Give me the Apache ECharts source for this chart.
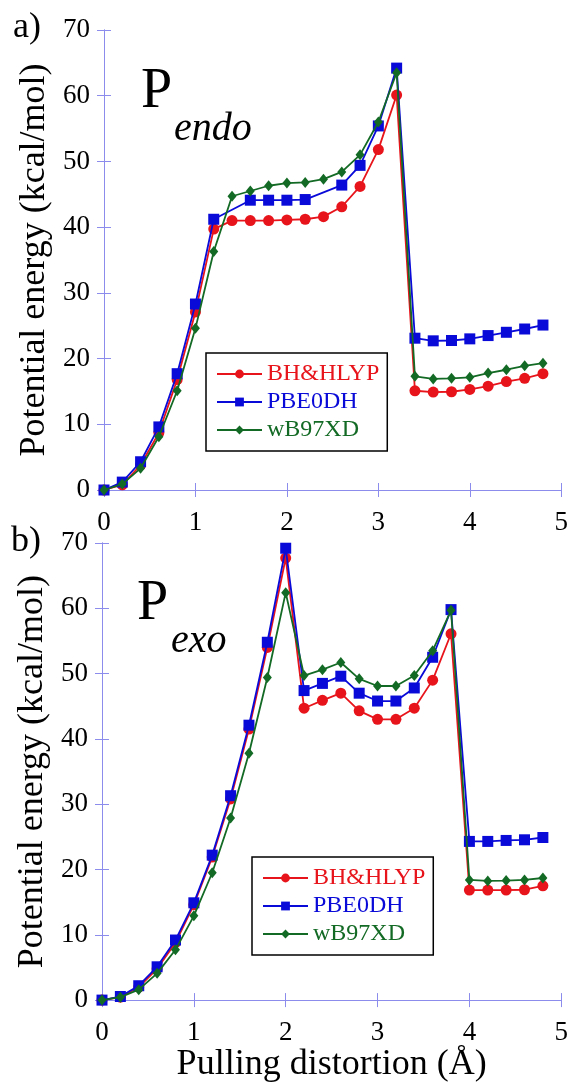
<!DOCTYPE html>
<html>
<head>
<meta charset="utf-8">
<script src="https://cdn.jsdelivr.net/npm/echarts@6/dist/echarts.min.js"></script>
<style>
  html, body { margin: 0; padding: 0; background: #fff; }
  #chart { width: 571px; height: 1084px; }
</style>
</head>
<body>
<div id="chart"></div>
<script>
// pulling distortion (Å)
const xs = [0, 0.2, 0.4, 0.6, 0.8, 1.0, 1.2, 1.4, 1.6, 1.8, 2.0, 2.2, 2.4,
  2.6, 2.8, 3.0, 3.2, 3.4, 3.6, 3.8, 4.0, 4.2, 4.4, 4.6, 4.8];

// panel a) P endo
const endoBH = [0, 0.8, 3.8, 8.7, 16.8, 27.1, 39.7, 41.0, 41.0, 41.0, 41.1, 41.2, 41.6,
  43.1, 46.2, 51.8, 60.1, 15.1, 14.9, 14.95, 15.3, 15.8, 16.5, 17.0, 17.7];
const endoPBE = [0, 1.2, 4.3, 9.6, 17.7, 28.3, 41.2, null, 44.1, 44.1, 44.1, 44.2, null,
  46.4, 49.4, 55.4, 64.2, 23.1, 22.7, 22.75, 23.0, 23.5, 24.0, 24.5, 25.1];
const endoWB = [0, 0.9, 3.3, 8.1, 15.1, 24.6, 36.3, 44.7, 45.5, 46.3, 46.7, 46.8, 47.3,
  48.4, 51.0, 56.0, 63.5, 17.3, 16.9, 17.0, 17.15, 17.8, 18.3, 18.9, 19.3];

// panel b) P exo
const exoBH = [0, 0.45, 2.0, 4.8, 8.8, 14.6, 21.9, 30.8, 41.5, 54.0, 67.7, 44.7, 45.9,
  47.0, 44.3, 43.0, 43.0, 44.7, 49.0, 56.1, 16.85, 16.85, 16.85, 16.9, 17.5];
const exoPBE = [0, 0.55, 2.2, 5.1, 9.2, 14.9, 22.2, 31.3, 42.1, 54.8, 69.2, 47.4, 48.5,
  49.6, 47.0, 45.8, 45.8, 47.8, 52.5, 59.8, 24.3, 24.3, 24.45, 24.55, 24.9];
const exoWB = [0, 0.45, 1.6, 4.1, 7.7, 12.9, 19.5, 27.9, 37.8, 49.4, 62.4, 49.7, 50.6,
  51.7, 49.2, 48.1, 48.1, 49.7, 53.5, 59.7, 18.4, 18.25, 18.3, 18.4, 18.7];

const methods = ["BH&HLYP", "PBE0DH", "wB97XD"];
const colors = ["#e8141b", "#0a0ad8", "#136a24"];
const symbols = ["circle", "rect", "diamond"];
const symbolSizes = [11, 11, [9, 11]];

const serif = "Liberation Serif";
const axisColor = "#8c8cec";

const chart = echarts.init(document.getElementById("chart"));

const pair = (vals) => xs.map((x, i) => [x, vals[i]]);

function xAxisFor(grid) {
  return [
    {
      gridIndex: grid, type: "value", min: 0, max: 5, interval: 1,
      axisLine: { lineStyle: { color: axisColor, width: 1 } },
      axisTick: { inside: true, length: 7, lineStyle: { color: axisColor } },
      axisLabel: { color: "#000", fontFamily: serif, fontSize: 27, margin: 19 },
      splitLine: { show: false },
      name: grid === 1 ? "Pulling distortion (Å)" : "",
      nameLocation: "middle", nameGap: 44,
      nameTextStyle: { color: "#000", fontFamily: serif, fontSize: 36 }
    },
    {
      gridIndex: grid, type: "value", min: 0, max: 5, interval: 1, position: "top",
      axisLine: { lineStyle: { color: axisColor, width: 1 } },
      axisTick: { inside: true, length: 7, lineStyle: { color: axisColor } },
      axisLabel: { show: false }, splitLine: { show: false }
    }
  ];
}

function yAxisFor(grid) {
  return [
    {
      gridIndex: grid, type: "value", min: 0, max: 70, interval: 10,
      axisLine: { show: true, lineStyle: { color: axisColor, width: 1 } },
      axisTick: { show: true, inside: true, length: 7, lineStyle: { color: axisColor } },
      axisLabel: { color: "#000", fontFamily: serif, fontSize: 27, margin: 14 },
      splitLine: { show: false },
      name: "Potential energy (kcal/mol)",
      nameLocation: "middle", nameGap: 48, nameRotate: 90,
      nameTextStyle: { color: "#000", fontFamily: serif, fontSize: 36 }
    },
    {
      gridIndex: grid, type: "value", min: 0, max: 70, interval: 10, position: "right",
      axisLine: { show: true, lineStyle: { color: axisColor, width: 1 } },
      axisTick: { show: true, inside: true, length: 7, lineStyle: { color: axisColor } },
      axisLabel: { show: false }, splitLine: { show: false }
    }
  ];
}

function seriesFor(grid, sets) {
  return sets.map((vals, k) => ({
    name: methods[k],
    type: "line",
    xAxisIndex: grid * 2,
    yAxisIndex: grid * 2,
    data: pair(vals),
    connectNulls: true,
    symbol: symbols[k],
    symbolSize: symbolSizes[k],
    showAllSymbol: true,
    lineStyle: { color: colors[k], width: 1.8 },
    itemStyle: { color: colors[k] },
    z: 2 + k,
    animation: false
  }));
}

function legendFor(left, top) {
  return {
    left: left, top: top, orient: "vertical",
    backgroundColor: "#fff", borderColor: "#000", borderWidth: 1.5,
    padding: [9, 8, 9, 10],
    itemWidth: 45, itemHeight: 11, itemGap: 4,
    textStyle: { fontFamily: serif, fontSize: 24, lineHeight: 24 },
    data: methods.map((m, k) => ({ name: m, textStyle: { color: colors[k] } })),
    selectedMode: false
  };
}

const option = {
  backgroundColor: "#fff",
  animation: false,
  grid: [
    { left: 104, top: 30, width: 460, height: 460 },
    { left: 102, top: 543, width: 461, height: 460 }
  ],
  xAxis: [...xAxisFor(0), ...xAxisFor(1)],
  yAxis: [...yAxisFor(0), ...yAxisFor(1)],
  legend: [legendFor(206, 353), legendFor(252, 857)],
  series: [
    ...seriesFor(0, [endoBH, endoPBE, endoWB]),
    ...seriesFor(1, [exoBH, exoPBE, exoWB])
  ],
  graphic: [
    { type: "text", left: 13, top: 10, style: { text: "a)", font: `36px "${serif}"`, fill: "#000" } },
    { type: "text", left: 11, top: 524, style: { text: "b)", font: `36px "${serif}"`, fill: "#000" } },
    { type: "text", left: 141, top: 64, style: { text: "P", font: `56px "${serif}"`, fill: "#000" } },
    { type: "text", left: 174, top: 109, style: { text: "endo", font: `italic 40px "${serif}"`, fill: "#000" } },
    { type: "text", left: 137, top: 576, style: { text: "P", font: `56px "${serif}"`, fill: "#000" } },
    { type: "text", left: 171, top: 621, style: { text: "exo", font: `italic 40px "${serif}"`, fill: "#000" } }
  ]
};

chart.setOption(option);
</script>
</body>
</html>
